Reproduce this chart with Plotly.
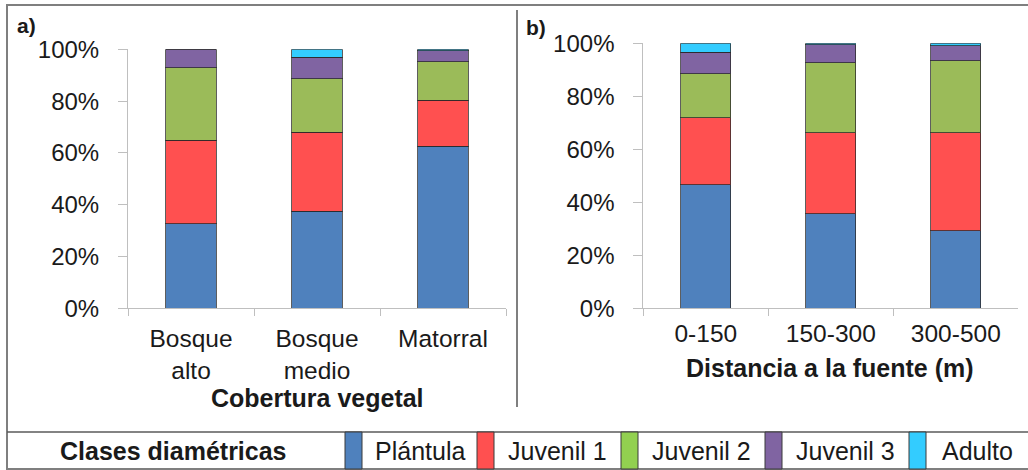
import plotly.graph_objects as go

# ---- data ----
series_names = ["Plántula", "Juvenil 1", "Juvenil 2", "Juvenil 3", "Adulto"]
bar_colors = ["#4F81BD", "#FF5050", "#9BBB59", "#8064A2", "#33CCFF"]
legend_colors = ["#4F81BD", "#FF5050", "#92D050", "#8064A2", "#33CCFF"]

cats_a = ["Bosque<br>alto", "Bosque<br>medio", "Matorral"]
vals_a = {
    "Plántula": [32.6, 37.5, 62.5],
    "Juvenil 1": [32.2, 30.5, 17.8],
    "Juvenil 2": [28.0, 20.6, 14.8],
    "Juvenil 3": [7.2, 8.3, 4.4],
    "Adulto": [0.0, 3.1, 0.5],
}

cats_b = ["0-150", "150-300", "300-500"]
vals_b = {
    "Plántula": [46.6, 35.6, 29.2],
    "Juvenil 1": [25.4, 30.7, 37.1],
    "Juvenil 2": [16.6, 26.4, 27.1],
    "Juvenil 3": [8.0, 6.7, 5.6],
    "Adulto": [3.4, 0.6, 1.0],
}

y_ticks = [0, 20, 40, 60, 80, 100]
y_ticktext = ["0%", "20%", "40%", "60%", "80%", "100%"]
title_a = "Cobertura vegetal"
title_b = "Distancia a la fuente (m)"
legend_title = "Clases diamétricas"

W, H = 1028, 470
FONT = "Liberation Sans, Arial, sans-serif"
TXT = "#1A1A1A"
AX = "#BFBFBF"


def px(x):
    return x / W


def py(y):
    return 1 - y / H


fig = go.Figure()
for name, col in zip(series_names, bar_colors):
    fig.add_trace(go.Bar(x=cats_a, y=vals_a[name], name=name, marker_color=col,
                         marker_line=dict(color="rgba(40,40,40,0.75)", width=1),
                         width=0.4, xaxis="x", yaxis="y", showlegend=False))
    fig.add_trace(go.Bar(x=cats_b, y=vals_b[name], name=name, marker_color=col,
                         marker_line=dict(color="rgba(40,40,40,0.75)", width=1),
                         width=0.4, xaxis="x2", yaxis="y2", showlegend=False))

yax = dict(range=[0, 100], tickmode="array", tickvals=y_ticks, ticktext=y_ticktext,
           showgrid=False, showline=True, linecolor=AX, linewidth=1, ticks="outside",
           ticklen=9, tickcolor=AX, tickfont=dict(family=FONT, size=24, color=TXT),
           ticklabelstandoff=14, zeroline=False, automargin=False)
xax = dict(showgrid=False, showline=True, linecolor=AX, linewidth=1, ticks="outside",
           ticklen=7, tickcolor=AX, tickson="boundaries", automargin=False,
           tickfont=dict(family=FONT, size=24.5, color=TXT))

fig.update_layout(
    template="none",
    width=W, height=H, margin=dict(l=0, r=0, t=0, b=0, pad=0, autoexpand=False), autosize=False,
    paper_bgcolor="white", plot_bgcolor="white", barmode="stack", bargap=0.6,
    xaxis=dict(xax, domain=[px(128), px(506)], anchor="y", ticklabelstandoff=8),
    yaxis=dict(yax, domain=[py(308.3), py(49.3)], anchor="x"),
    xaxis2=dict(xax, domain=[px(643.3), px(1018.3)], anchor="y2", ticklabelstandoff=3),
    yaxis2=dict(yax, domain=[py(308.3), py(43.3)], anchor="x2"),
)

shapes = []
annots = []
# outer frame, divider
shapes.append(dict(type="rect", xref="paper", yref="paper", x0=px(7), x1=px(1034),
                   y0=py(469), y1=py(5), line=dict(color="#7F7F7F", width=2)))
shapes.append(dict(type="line", xref="paper", yref="paper", x0=px(517), x1=px(517),
                   y0=py(407), y1=py(10), line=dict(color="#7F7F7F", width=2)))
# legend table
shapes.append(dict(type="line", xref="paper", yref="paper", x0=px(7), x1=px(1034),
                   y0=py(432), y1=py(432), line=dict(color="#5A5A5A", width=1.5)))
sw_x = [345, 477, 621, 765, 909]
sw_w = 17
for i, (name, col) in enumerate(zip(series_names, legend_colors)):
    x0 = sw_x[i]
    shapes.append(dict(type="rect", xref="paper", yref="paper", x0=px(x0), x1=px(x0 + sw_w),
                       y0=py(469), y1=py(432), fillcolor=col,
                       line=dict(color="#3A3A3A", width=1)))
    nxt = sw_x[i + 1] if i + 1 < len(sw_x) else 1028
    annots.append(dict(x=px((x0 + sw_w + nxt) / 2), y=py(451), xref="paper", yref="paper",
                       text=name, showarrow=False, xanchor="center", yanchor="middle",
                       font=dict(family=FONT, size=25, color=TXT)))
annots.append(dict(x=px(173), y=py(451), xref="paper", yref="paper", text="<b>%s</b>" % legend_title,
                   showarrow=False, xanchor="center", yanchor="middle",
                   font=dict(family=FONT, size=25, color=TXT)))
# axis titles
annots.append(dict(x=px(317), y=py(398), xref="paper", yref="paper", text="<b>%s</b>" % title_a,
                   showarrow=False, xanchor="center", yanchor="middle",
                   font=dict(family=FONT, size=25, color=TXT)))
annots.append(dict(x=px(830), y=py(368), xref="paper", yref="paper", text="<b>%s</b>" % title_b,
                   showarrow=False, xanchor="center", yanchor="middle",
                   font=dict(family=FONT, size=25, color=TXT)))
# panel labels
annots.append(dict(x=px(15), y=py(25.5), xref="paper", yref="paper", text="<b>a)</b>",
                   showarrow=False, xanchor="left", yanchor="middle",
                   font=dict(family=FONT, size=21, color=TXT)))
annots.append(dict(x=px(524), y=py(28), xref="paper", yref="paper", text="<b>b)</b>",
                   showarrow=False, xanchor="left", yanchor="middle",
                   font=dict(family=FONT, size=21, color=TXT)))

fig.update_layout(shapes=shapes, annotations=annots)
fig.write_html("out.html", config={"responsive": False, "displayModeBar": False},
               post_script="document.body.style.margin='0';document.body.style.overflow='hidden';")
